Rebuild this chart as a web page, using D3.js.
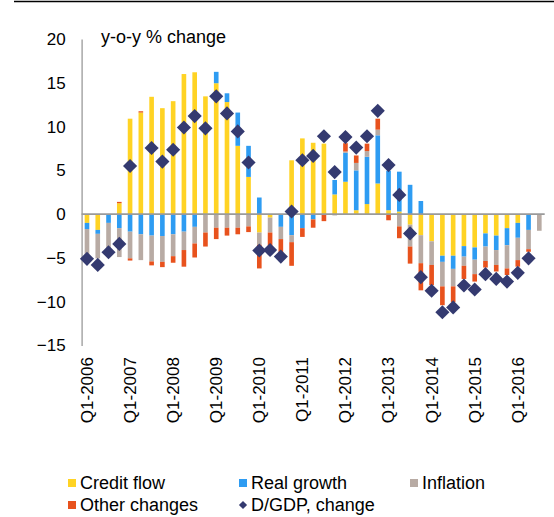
<!DOCTYPE html>
<html>
<head>
<meta charset="utf-8">
<script src="https://cdn.jsdelivr.net/npm/d3@7"></script>
<style>
  body { margin: 0; background: #fff; }
  svg { display: block; font-family: "Liberation Sans", Arial, sans-serif; }
</style>
</head>
<body>
<div id="chart"></div>
<script>
// Quarters Q1-2006 .. Q3-2016
const years = [2006, 2007, 2008, 2009, 2010, 2011, 2012, 2013, 2014, 2015, 2016];
const quarterNames = ["Q1", "Q2", "Q3", "Q4"];
const quarters = [];
years.forEach(yr => quarterNames.forEach(q => quarters.push(`${q}-${yr}`)));
quarters.splice(43); // last shown bar is Q3-2016

// Stacked components (% y-o-y)
const creditFlow = [-1.0, -1.8, 0, 1.25, 10.9, 11.6, 13.4, 12.1, 12.9, 16.0, 16.2, 13.45, 14.95, 12.8, 7.8, 4.25,
  -2.1, -0.4, 0, 6.15, 8.65, 8.15, 8.05, 2.25, 3.7, 0.45, 1.15, 3.5, 0.45, 0.3, -1.2, -2.4,
  -3.1, -4.75, -4.75, -3.65, -3.8, -2.2, -2.45, -1.6, -1.0, 0, 0];
const realGrowth = [-0.7, -0.45, -1.0, -1.6, -2.0, -2.3, -2.45, -2.5, -2.3, -2.0, -1.45, -0.1, 1.3, 1.0, 3.8, 3.55,
  1.9, 0, -1.45, -2.4, -1.6, -0.6, 0, 1.65, 3.3, 4.55, 5.4, 5.5, 4.5, 4.55, 3.35, 1.5,
  0, -0.7, -1.5, -1.2, -1.4, -1.5, -1.65, -1.95, -1.7, -1.8, 0];
const inflation = [-3.3, -2.8, -2.9, -3.3, -3.05, -2.95, -2.95, -2.95, -2.5, -2.1, -1.9, -2.0, -1.55, -1.55, -1.55, -1.4,
  -1.4, -1.7, -1.4, -0.8, 0, 0, 0, -0.15, 0.15, 0.85, 0.65, 0.65, 0, -1.4, -2.5, -3.2,
  -2.7, -2.8, -2.0, -1.05, -1.65, -1.65, -1.7, -2.65, -2.55, -2.2, -1.9];
const otherChanges = [0, 0, 0, 0.15, -0.25, 0.15, -0.45, -0.6, -0.75, -1.9, -1.6, -1.6, -1.3, -0.9, -0.75, -0.65,
  -2.7, -1.8, -1.65, -2.7, -1.0, -0.95, -0.8, 0, 0.95, 0.85, 0.85, 1.25, -0.7, -1.35, -1.95, -3.1,
  -2.3, -2.15, -1.8, -1.5, -0.85, -0.75, -0.75, -0.75, -0.75, -0.3, 0];
// Debt-to-GDP change (diamonds), null = no point
const debtGdp = [-5.1, -5.8, -4.35, -3.4, 5.5, null, 7.55, 6.0, 7.35, 9.9, 11.2, 9.8, 13.45, 11.5, 9.45, 5.9,
  -4.15, -4.1, -4.85, 0.3, 6.15, 6.65, 8.9, 4.8, 8.8, 7.6, 8.9, 11.8, 5.6, 2.2, -2.2, -7.2,
  -8.75, -11.2, -10.65, -8.15, -8.6, -6.85, -7.4, -7.7, -6.7, -5.05, null];

const yTicks = [-15, -10, -5, 0, 5, 10, 15, 20];

const keys = ["credit", "real", "infl", "other"];
const colors = { credit: "#FFD324", real: "#2E9CF2", infl: "#B8ABA4", other: "#E8521D", dgdp: "#343A70" };
const legendItems = [
  { key: "credit", label: "Credit flow" },
  { key: "real", label: "Real growth" },
  { key: "infl", label: "Inflation" },
  { key: "other", label: "Other changes" },
  { key: "dgdp", label: "D/GDP, change" }
];

// Build table for the stack
const table = quarters.map((q, i) => ({
  q: q,
  credit: creditFlow[i],
  real: realGrowth[i],
  infl: inflation[i],
  other: otherChanges[i]
}));

const W = 554, H = 517;
const svg = d3.select("#chart").append("svg")
  .attr("width", W)
  .attr("height", H);

// Top rule
svg.append("line")
  .attr("x1", 14).attr("x2", W)
  .attr("y1", 1.5).attr("y2", 1.5)
  .attr("stroke", "#000").attr("stroke-width", 1.5);

// Scales
const x = d3.scaleBand()
  .domain(quarters)
  .range([81.6, 544.7])
  .paddingInner(0.57)
  .paddingOuter(0.285);

const y = d3.scaleLinear()
  .domain([-15, 20])
  .range([345.5, 39]);

// Stacked bars
const series = d3.stack()
  .keys(keys)
  .offset(d3.stackOffsetDiverging)(table);

svg.append("g")
  .selectAll("g")
  .data(series)
  .join("g")
  .attr("fill", d => colors[d.key])
  .selectAll("rect")
  .data(d => d)
  .join("rect")
  .attr("x", d => x(d.data.q))
  .attr("width", x.bandwidth())
  .attr("y", d => y(Math.max(d[0], d[1])))
  .attr("height", d => Math.abs(y(d[0]) - y(d[1])));

// Y axis
const yAxis = svg.append("g")
  .attr("transform", `translate(${x.range()[0]},0)`)
  .call(d3.axisLeft(y).tickValues(yTicks).tickSize(0).tickPadding(16).tickFormat(d3.format("d")));
yAxis.select(".domain").attr("stroke", "#9a9a9a").attr("stroke-width", 1.3);
yAxis.selectAll("text")
  .attr("fill", "#000")
  .style("font-size", "17px")
  .style("font-family", "'Liberation Sans', Arial, sans-serif");

// Zero line
svg.append("line")
  .attr("x1", x.range()[0]).attr("x2", x.range()[1])
  .attr("y1", y(0)).attr("y2", y(0))
  .attr("stroke", "#9a9a9a").attr("stroke-width", 1.8);

// X labels (Q1 of each year)
svg.append("g")
  .selectAll("text")
  .data(quarters.filter(q => q.startsWith("Q1")))
  .join("text")
  .attr("transform", d => `translate(${x(d) + x.bandwidth() / 2},357) rotate(-90)`)
  .attr("text-anchor", "end")
  .attr("dy", "0.35em")
  .style("font-size", "17px")
  .text(d => d);

// Diamonds
const diamond = d3.symbol().type(d3.symbolSquare).size(100);
svg.append("g")
  .selectAll("path")
  .data(quarters.map((q, i) => ({ q: q, v: debtGdp[i] })).filter(d => d.v !== null))
  .join("path")
  .attr("d", diamond)
  .attr("fill", colors.dgdp)
  .attr("transform", d => `translate(${x(d.q) + x.bandwidth() / 2},${y(d.v)}) rotate(45)`);

// Axis title
svg.append("text")
  .attr("x", 101)
  .attr("y", 43)
  .style("font-size", "18px")
  .text("y-o-y % change");

// Legend
const legendCols = [68, 239, 410];
const legendRows = [483, 505];
const legend = svg.append("g")
  .selectAll("g")
  .data(legendItems)
  .join("g")
  .attr("transform", (d, i) => `translate(${legendCols[i % 3]},${legendRows[Math.floor(i / 3)]})`);

legend.each(function (d) {
  const g = d3.select(this);
  if (d.key === "dgdp") {
    g.append("path")
      .attr("d", d3.symbol().type(d3.symbolSquare).size(34))
      .attr("transform", "translate(4,0) rotate(45)")
      .attr("fill", colors.dgdp);
  } else {
    g.append("rect")
      .attr("x", 0).attr("y", -4)
      .attr("width", 8).attr("height", 8)
      .attr("fill", colors[d.key]);
  }
  g.append("text")
    .attr("x", 12)
    .attr("dy", "0.35em")
    .style("font-size", "18px")
    .text(d.label);
});
</script>
</body>
</html>
